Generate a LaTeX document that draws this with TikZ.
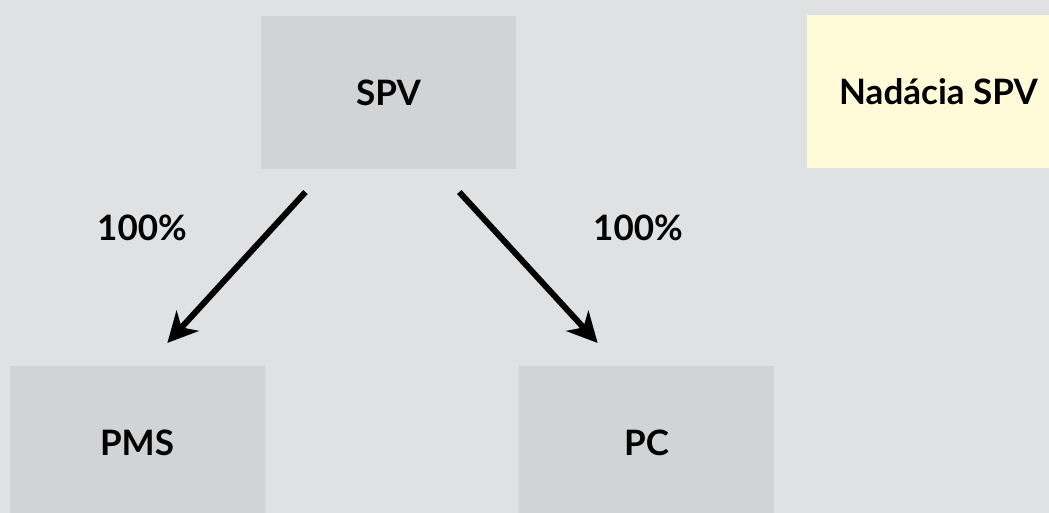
\documentclass[tikz,border=0pt]{standalone}
\usepackage{fontspec}
\setmainfont{Lato}
\usetikzlibrary{arrows.meta}
\definecolor{bg}{HTML}{E0E1E3}
\definecolor{boxgray}{HTML}{D2D3D5}
\definecolor{boxyellow}{HTML}{FFFAD7}
\begin{document}
\begin{tikzpicture}[x=1pt, y=-1pt, font=\fontsize{35}{42}\selectfont\bfseries,
  every node/.style={rectangle, inner sep=0pt},
  box/.style={fill=boxgray, minimum width=255pt, minimum height=153pt},
  link/.style={line width=6pt, -{Stealth[length=30pt, width=30pt, inset=9pt]},
    shorten <=31pt, shorten >=31pt}]
  \clip (0,0) rectangle (1049,513);
  \fill[bg] (0,0) rectangle (1049,513);

  \node[box] (SPV) at (388.5,92.5) {SPV};
  \node[box, fill=boxyellow] (N) at (934.5,92) {\hspace*{8pt}Nadácia SPV};
  \node[box] (PMS) at (137,442.5) {PMS};
  \node[box] (PC) at (646.5,442.5) {PC};

  \draw[link] (SPV.-129.25) -- (PMS.83.3);
  \draw[link] (SPV.-57.6) -- (PC.110.4);

  \node (p1) at (142,228) {100\%};
  \node (p2) at (638,228) {100\%};
\end{tikzpicture}
\end{document}
